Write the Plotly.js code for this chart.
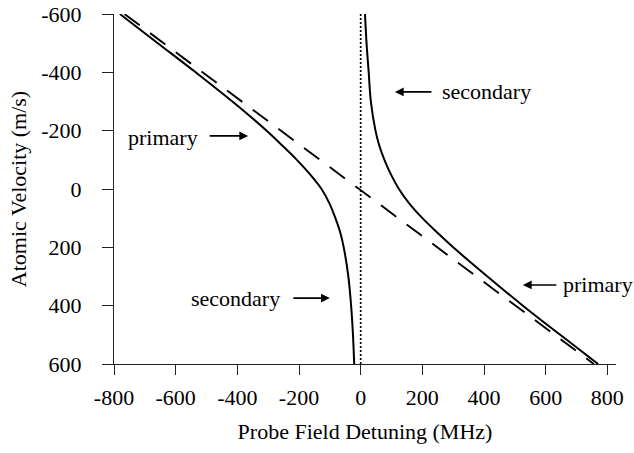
<!DOCTYPE html>
<html>
<head>
<meta charset="utf-8">
<script src="https://cdn.plot.ly/plotly-3.0.1.min.js"></script>
<style>html,body{margin:0;padding:0;background:#fff;}#chart{width:634px;height:453px;}</style>
</head>
<body>
<div id="chart"></div>
<script>
// Atomic velocity (m/s) vs. probe detuning (MHz)
const primaryLeftV = [-600, -500, -400, -300, -200, -150, -100, -50, 0, 50, 100, 150, 200, 300, 400, 500, 600];
const primaryLeftD = [-781, -658, -535, -416, -305, -255, -207, -164, -127, -101, -82, -66, -55, -40, -31, -25, -21];

const rightV = [-600, -500, -400, -300, -200, -150, -100, -50, 0, 50, 100, 150, 200, 300, 400, 500, 600];
const rightD = [14, 19, 26, 33, 48, 60, 77, 98, 124, 158, 200, 249, 300, 411, 526, 647, 770];

const dopplerV = [-600, 600];
const dopplerD = [-766, 756];

const resonanceV = [-600, 600];
const resonanceD = [0, 0];

const xTicks = [-800, -600, -400, -200, 0, 200, 400, 600, 800];
const yTicks = [-600, -400, -200, 0, 200, 400, 600];

const FONT = "'Liberation Serif', 'Times New Roman', serif";
const FS = 22;

const traces = [
  {x: primaryLeftD, y: primaryLeftV, mode: 'lines', line: {color: '#000', width: 2, shape: 'spline', smoothing: 1}, hoverinfo: 'skip'},
  {x: rightD, y: rightV, mode: 'lines', line: {color: '#000', width: 2, shape: 'spline', smoothing: 1}, hoverinfo: 'skip'},
  {x: dopplerD, y: dopplerV, mode: 'lines', line: {color: '#000', width: 1.9, dash: '19px,13px'}, hoverinfo: 'skip'},
  {x: resonanceD, y: resonanceV, mode: 'lines', line: {color: '#000', width: 1.7, dash: '2px,2px'}, hoverinfo: 'skip'}
];

function arrow(x, y, ax) {
  return {x: x, y: y, xref: 'x', yref: 'y', text: '', showarrow: true, ax: ax, ay: 0,
          arrowhead: 2, arrowsize: 1.1, arrowwidth: 1.6, arrowcolor: '#000', standoff: 0, startstandoff: 0};
}
function label(x, y, text, anchor) {
  return {x: x, y: y, xref: 'x', yref: 'y', text: text, showarrow: false, xanchor: anchor, yanchor: 'middle',
          font: {family: FONT, size: FS, color: '#000'}};
}

const layout = {
  width: 634, height: 453,
  margin: {l: 114, r: 18, t: 14, b: 89},
  paper_bgcolor: '#fff', plot_bgcolor: '#fff',
  showlegend: false,
  font: {family: FONT, size: FS, color: '#000'},
  xaxis: {
    range: [-800, 828], tickvals: xTicks, ticktext: xTicks.map(String),
    showgrid: false, zeroline: false, showline: true, linecolor: '#222', linewidth: 1,
    ticks: 'outside', ticklen: 10, tickcolor: '#222', tickwidth: 1, ticklabelstandoff: 4,
    tickfont: {family: FONT, size: FS, color: '#000'},
    title: {text: 'Probe Field Detuning (MHz)', font: {family: FONT, size: FS, color: '#000'}, standoff: 14}
  },
  yaxis: {
    range: [600, -600], tickvals: yTicks, ticktext: yTicks.map(String),
    showgrid: false, zeroline: false, showline: true, linecolor: '#222', linewidth: 1,
    ticks: 'outside', ticklen: 11, tickcolor: '#222', tickwidth: 1, ticklabelstandoff: 16,
    tickfont: {family: FONT, size: FS, color: '#000'},
    title: {text: 'Atomic Velocity (m/s)', font: {family: FONT, size: FS, color: '#000'}, standoff: 8}
  },
  annotations: [
    label(-521, -178, 'primary', 'right'), arrow(-365, -182, -40),
    label(257, -333, 'secondary', 'left'), arrow(111, -333, 38),
    label(-255, 374, 'secondary', 'right'), arrow(-100, 374, -38),
    label(651, 329, 'primary', 'left'), arrow(526, 329, 35)
  ]
};

Plotly.newPlot('chart', traces, layout, {staticPlot: true, displayModeBar: false});
</script>
</body>
</html>
